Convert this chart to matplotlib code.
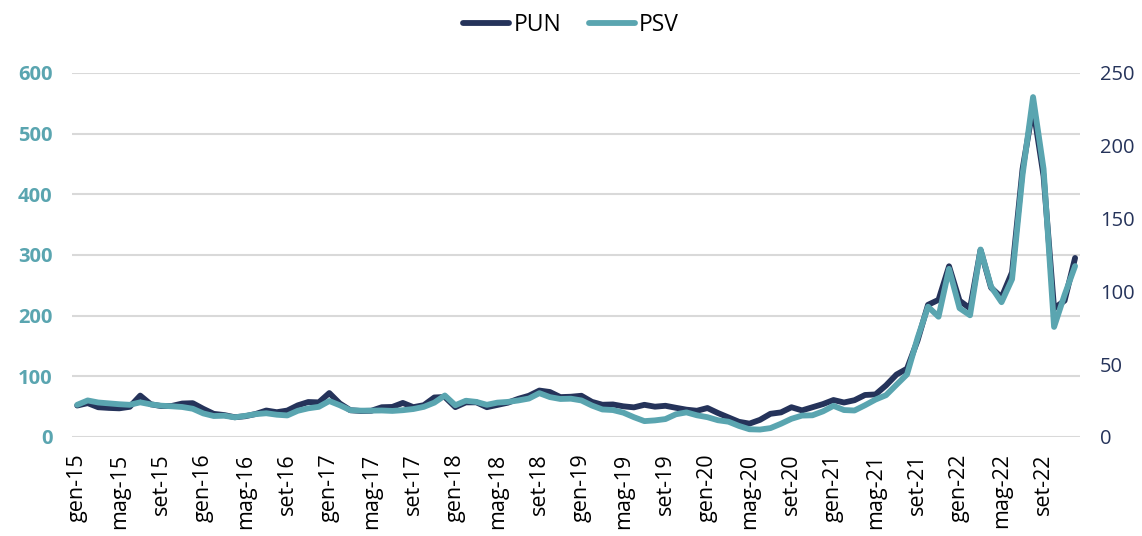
import numpy as np
import pandas as pd
import matplotlib
matplotlib.use("Agg")
import matplotlib.pyplot as plt

plt.rcParams['font.family'] = ['Open Sans', 'DejaVu Sans']

# monthly prices, gen-15 .. dic-22 (EUR/MWh)
pun = [51.6, 55.6, 48.8, 47.7, 47.0, 49.5, 68.0, 53.7, 50.7, 50.9, 54.9, 55.5,
       46.2, 37.9, 35.9, 32.3, 34.0, 37.7, 43.4, 40.6, 43.3, 51.9, 57.4, 56.8,
       72.2, 55.0, 43.9, 42.6, 43.0, 48.8, 49.3, 55.9, 48.9, 52.2, 64.9, 65.7,
       49.0, 56.8, 56.9, 48.9, 52.6, 56.3, 62.7, 67.7, 76.3, 73.9, 65.5, 66.1,
       67.7, 57.7, 52.9, 53.4, 50.3, 48.6, 52.8, 49.7, 51.2, 47.9, 44.8, 43.0,
       47.5, 39.3, 32.0, 24.8, 21.8, 28.0, 38.0, 40.3, 48.8, 43.6, 48.8, 54.0,
       60.7, 56.6, 60.4, 69.0, 69.9, 84.8, 102.7, 112.4, 158.6, 217.6, 225.9, 281.2,
       224.5, 211.7, 308.1, 245.9, 230.1, 271.3, 441.6, 543.2, 429.9, 211.6, 224.5, 294.9]

psv = [22.0, 25.0, 23.6, 23.0, 22.4, 22.0, 23.7, 22.3, 21.4, 21.0, 20.5, 19.3,
       16.1, 14.3, 14.5, 13.4, 14.4, 15.6, 16.2, 15.2, 14.7, 17.9, 19.6, 20.6,
       24.6, 21.7, 18.3, 18.0, 18.0, 18.1, 17.8, 18.3, 19.1, 20.6, 23.5, 28.4,
       21.7, 24.8, 24.0, 22.0, 23.5, 24.0, 25.0, 26.3, 30.0, 27.3, 26.0, 26.2,
       25.0, 21.5, 18.8, 18.4, 16.6, 13.5, 10.8, 11.3, 12.2, 15.5, 16.8, 14.8,
       13.5, 11.4, 10.4, 7.5, 5.2, 5.0, 6.0, 9.0, 12.4, 14.6, 14.8, 17.5,
       21.3, 18.4, 18.1, 21.7, 25.6, 28.6, 35.8, 42.9, 67.8, 89.4, 82.5, 115.4,
       88.4, 83.5, 128.7, 103.2, 92.5, 108.3, 180.0, 233.4, 184.1, 75.5, 97.5, 117.3]

mesi = ['gen', 'feb', 'mar', 'apr', 'mag', 'giu', 'lug', 'ago', 'set', 'ott', 'nov', 'dic']
dates = pd.date_range('2015-01-01', periods=len(pun), freq='MS')
labels = [f"{mesi[d.month - 1]}-{d.year % 100:02d}" for d in dates]

navy = '#25335A'
teal = '#5AA5B0'

fig = plt.figure(figsize=(11.42, 5.36), dpi=100)
ax = fig.add_axes([0.063, 0.185, 0.883, 0.679])
ax2 = ax.twinx()

x = np.arange(len(pun))
l1, = ax.plot(x, pun, color=navy, lw=4.2, solid_capstyle='round', label='PUN')
l2, = ax2.plot(x, psv, color=teal, lw=4.2, solid_capstyle='round', label='PSV')

ax.set_xlim(-0.5, len(pun) - 0.5)
ax.set_ylim(0, 600)
ax2.set_ylim(0, 250)
ax.set_yticks(range(0, 601, 100))
ax2.set_yticks(range(0, 251, 50))
ax.grid(axis='y', color='#D9D9D9', lw=1.5)
ax.set_axisbelow(True)

ax.set_xticks(x[::4])
ax.set_xticklabels(labels[::4], rotation=90, fontsize=15.5)
ax.tick_params(axis='x', length=0, pad=12)
ax.tick_params(axis='y', length=0, labelsize=14.5, labelcolor=teal, pad=14)
ax2.tick_params(axis='y', length=0, labelsize=14.5, labelcolor=navy, pad=14)
for t in ax.get_yticklabels():
    t.set_fontweight('bold')

for a in (ax, ax2):
    for s in a.spines.values():
        s.set_visible(False)

fig.legend([l1, l2], ['PUN', 'PSV'], loc='upper center', bbox_to_anchor=(0.5, 1.015),
           ncol=2, frameon=False, fontsize=16.5, handlelength=2.0, handletextpad=0.2,
           columnspacing=1.2)

fig.savefig('out.png', dpi=100)
